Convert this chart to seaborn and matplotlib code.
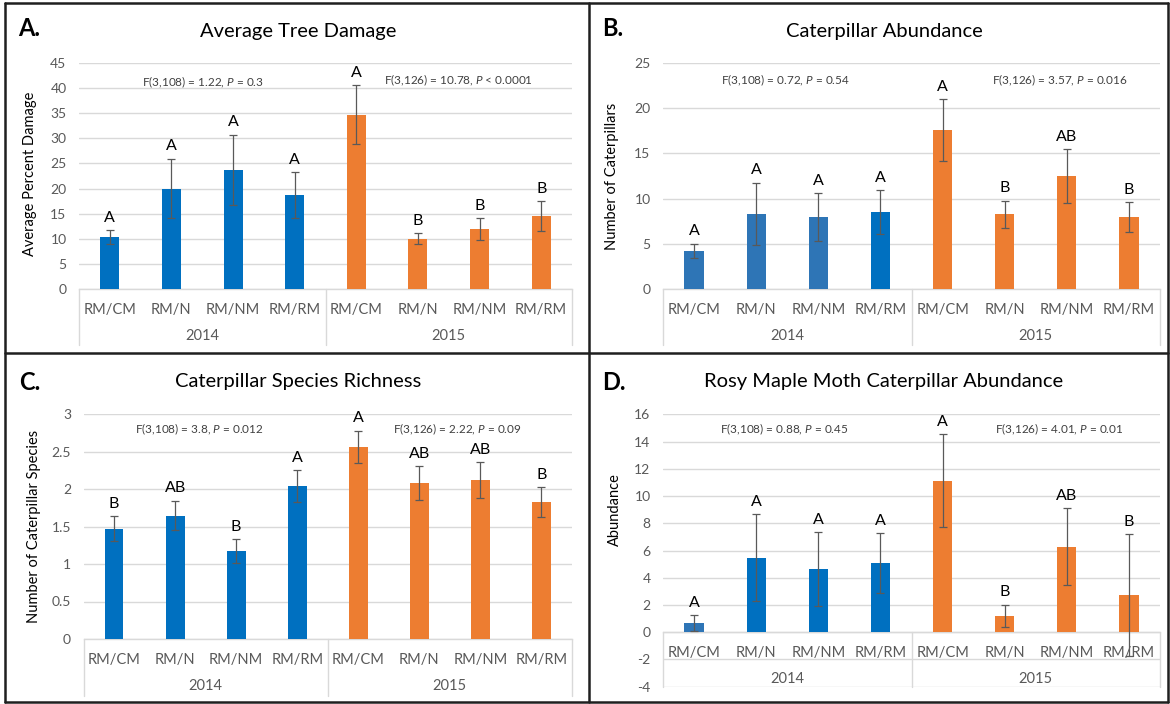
import numpy as np
import pandas as pd
import matplotlib
matplotlib.use("Agg")
import matplotlib.pyplot as plt
import seaborn as sns
from matplotlib.lines import Line2D
from matplotlib.ticker import FuncFormatter, MultipleLocator
from matplotlib import transforms

# ---------------- data ----------------
treatments = ["RM/CM", "RM/N", "RM/NM", "RM/RM"]
years = ["2014", "2015"]

damage_mean = [10.3, 20.0, 23.7, 18.7, 34.7, 10.0, 11.9, 14.5]
damage_err = [1.35, 5.9, 7.0, 4.5, 5.9, 1.1, 2.2, 2.95]
damage_letters = ["A", "A", "A", "A", "A", "B", "B", "B"]
damage_stats = ["F(3,108) = 1.22, P = 0.3", "F(3,126) = 10.78, P < 0.0001"]

abund_mean = [4.18, 8.32, 7.91, 8.5, 17.56, 8.24, 12.5, 7.91]
abund_err = [0.81, 3.44, 2.66, 2.4, 3.44, 1.52, 2.95, 1.67]
abund_letters = ["A", "A", "A", "A", "A", "B", "AB", "B"]
abund_stats = ["F(3,108) = 0.72, P = 0.54", "F(3,126) = 3.57, P = 0.016"]

rich_mean = [1.47, 1.644, 1.173, 2.04, 2.564, 2.08, 2.12, 1.822]
rich_err = [0.165, 0.196, 0.156, 0.209, 0.214, 0.222, 0.236, 0.2]
rich_letters = ["B", "AB", "B", "A", "A", "AB", "AB", "B"]
rich_stats = ["F(3,108) = 3.8, P = 0.012", "F(3,126) = 2.22, P = 0.09"]

rosy_mean = [0.685, 5.48, 4.62, 5.06, 11.13, 1.2, 6.29, 2.74]
rosy_err = [0.56, 3.18, 2.72, 2.21, 3.4, 0.83, 2.81, 4.45]
rosy_letters = ["A", "A", "A", "A", "A", "B", "AB", "B"]
rosy_stats = ["F(3,108) = 0.88, P = 0.45", "F(3,126) = 4.01, P = 0.01"]

BLUE = "#0070C0"
BLUE2 = "#2E75B6"
ORANGE = "#ED7D31"

# ---------------- style ----------------
sns.set_theme(style="white")
plt.rcParams["font.family"] = ["Lato", "DejaVu Sans"]
plt.rcParams["mathtext.fontset"] = "custom"
plt.rcParams["mathtext.rm"] = "Lato"
plt.rcParams["mathtext.it"] = "Lato:italic"

W, H = 1170, 704
fig = plt.figure(figsize=(W / 100, H / 100), dpi=100)
fig.patch.set_facecolor("white")


def fx(x):
    return x / W


def fy(y):
    return 1 - y / H


def add_ax(l, t, r, b):
    return fig.add_axes([fx(l), fy(b), fx(r - l), (b - t) / H])


TICK_C = "#595959"
GRID_C = "#D9D9D9"


def panel(ax, means, errs, letters, colors, ylim, ystep, table_px, inside=False):
    keys = [f"{y} {t}" for y in years for t in treatments]
    df = pd.DataFrame({"key": keys, "mean": means})
    sns.barplot(data=df, x="key", y="mean", hue="key", palette=colors,
                order=keys, hue_order=keys, width=0.31, legend=False,
                saturation=1, edgecolor="none", linewidth=0, ax=ax, zorder=3)
    ax.errorbar(np.arange(len(keys)), means, yerr=errs, fmt="none",
                ecolor="#595959", elinewidth=0.9, capsize=3, capthick=0.9,
                zorder=4, clip_on=False)
    for i, (m, e, l) in enumerate(zip(means, errs, letters)):
        ax.annotate(l, (i, m + e), xytext=(0, 4), textcoords="offset points",
                    ha="center", va="bottom", fontsize=11.5, color="black",
                    annotation_clip=False)
    ax.set_xlim(-0.5, 7.5)
    ax.set_ylim(*ylim)
    ax.yaxis.set_major_locator(MultipleLocator(ystep))
    ax.yaxis.set_major_formatter(FuncFormatter(lambda v, p: f"{v:g}"))
    ax.grid(axis="y", color=GRID_C, linewidth=1.0, zorder=0)
    ax.set_axisbelow(True)
    for s in ["left", "right", "top"]:
        ax.spines[s].set_visible(False)
    ax.spines["bottom"].set_color(GRID_C)
    ax.spines["bottom"].set_linewidth(1.0)
    if inside:
        ax.spines["bottom"].set_position(("data", 0))
    ax.set_xticks(range(len(keys)))
    ax.set_xticklabels(treatments * 2)
    ax.tick_params(axis="x", length=0, pad=10, labelsize=10.5, labelcolor=TICK_C)
    ax.tick_params(axis="y", length=0, pad=9, labelsize=10, labelcolor=TICK_C)
    ax.set_xlabel("")
    ax.set_ylabel("")
    # category table below axis
    y0 = 0 if inside else ylim[0]
    base = ax.transData
    for xs in [-0.5, 3.5, 7.5]:
        off = transforms.offset_copy(base, fig=fig, x=0, y=-table_px, units="dots")
        p0 = base.transform((xs, y0))
        p1 = off.transform((xs, y0))
        ln = Line2D([p0[0], p1[0]], [p0[1], p1[1]], transform=None,
                    color=GRID_C, linewidth=1.0, zorder=1)
        fig.add_artist(ln)
    for k, yr in enumerate(years):
        ax.annotate(yr, (1.5 + 4 * k, y0), xycoords="data",
                    xytext=(0, -47 * 0.72), textcoords="offset points",
                    ha="center", va="center", fontsize=10.5, color=TICK_C,
                    annotation_clip=False)


colA = [BLUE] * 4 + [ORANGE] * 4
colB = [BLUE2] * 3 + [BLUE] + [ORANGE] * 4
colC = [BLUE] * 4 + [ORANGE] * 4
colD = [BLUE2] + [BLUE] * 3 + [ORANGE] * 4

axA = add_ax(79, 63.3, 572, 288.7)
panel(axA, damage_mean, damage_err, damage_letters, colA, (0, 45), 5, 56)
axB = add_ax(663, 63.3, 1160, 288.7)
panel(axB, abund_mean, abund_err, abund_letters, colB, (0, 25), 5, 56)
axC = add_ax(83.5, 414, 572, 639)
panel(axC, rich_mean, rich_err, rich_letters, colC, (0, 3), 0.5, 57)
axD = add_ax(663, 414.3, 1160, 686.7)
panel(axD, rosy_mean, rosy_err, rosy_letters, colD, (-4, 16), 2, 54.4, inside=True)

# titles, panel letters, axis titles, stats
titles = ["Average Tree Damage", "Caterpillar Abundance",
          "Caterpillar Species Richness", "Rosy Maple Moth Caterpillar Abundance"]
title_pos = [(298, 31.7), (884, 31.7), (298, 381.7), (884, 381.7)]
for t, (x, y) in zip(titles, title_pos):
    fig.text(fx(x), fy(y), t, ha="center", va="center", fontsize=14.5, color="black")

plabels = ["A.", "B.", "C.", "D."]
plabel_pos = [(18, 29), (602, 29), (19, 382), (602, 382)]
for t, (x, y) in zip(plabels, plabel_pos):
    fig.text(fx(x), fy(y), t, ha="left", va="center", fontsize=17,
             fontweight="bold", color="black")

ylabels = ["Average Percent Damage", "Number of Caterpillars",
           "Number of Caterpillar Species", "Abundance"]
ylabel_pos = [(30, 174), (612, 176), (34, 526), (615, 510)]
for t, (x, y) in zip(ylabels, ylabel_pos):
    fig.text(fx(x), fy(y), t, ha="center", va="center", rotation=90,
             fontsize=10.5, color="black")

stats = [damage_stats, abund_stats, rich_stats, rosy_stats]
stat_pos = [[(203, 82), (458, 80)], [(785, 80), (1060, 80)],
            [(199.5, 429), (457, 429)], [(784.5, 429), (1059, 429)]]
for pair, poss in zip(stats, stat_pos):
    for s, (x, y) in zip(pair, poss):
        fig.text(fx(x), fy(y), s.replace("P", r"$\it{P}$"), ha="center",
                 va="center", fontsize=8.5, color="#404040")

# panel borders
BC = "#1f1f1f"
lw = 1.8
segs = [((5, 3), (1168, 3)), ((5, 702), (1168, 702)), ((5, 3), (5, 702)),
        ((1168, 3), (1168, 702)), ((589, 3), (589, 702)), ((5, 353), (1168, 353))]
for (x0, y0), (x1, y1) in segs:
    fig.add_artist(Line2D([fx(x0), fx(x1)], [fy(y0), fy(y1)],
                          transform=fig.transFigure, color=BC, linewidth=lw))

fig.savefig("out.png", dpi=100, facecolor="white")
